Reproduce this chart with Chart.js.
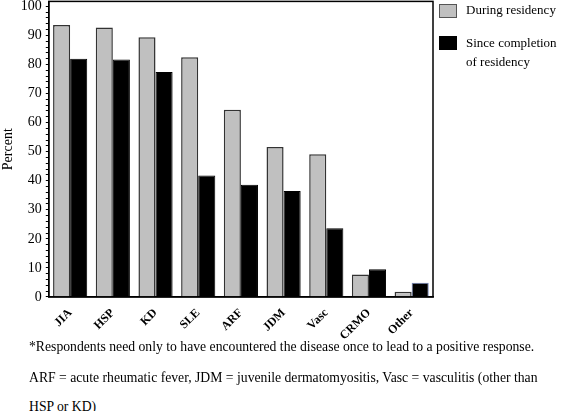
<!DOCTYPE html>
<html>
<head>
<meta charset="utf-8">
<script src="https://cdn.jsdelivr.net/npm/chart.js@4.4.1/dist/chart.umd.min.js"></script>
<style>
    body { margin: 0; background: #fff; font-family: "Liberation Serif", "Times New Roman", serif; }
    #wrap { position: relative; width: 561px; height: 411px; overflow: hidden; }
    #chart { position: absolute; left: 0; top: -11px; }
    .legend { position: absolute; left: 439px; font-size: 13px; color: #000; }
    .legend .box { position: absolute; left: 0; width: 16px; height: 12px; }
    .legend .txt { position: absolute; left: 27px; line-height: 19px; white-space: nowrap; }
    .note { position: absolute; left: 29px; font-size: 13.7px; color: #000; white-space: nowrap; }
</style>
</head>
<body>
<div id="wrap">
    <canvas id="chart" width="561" height="355"></canvas>
    <div class="legend" style="top:4px">
        <div class="box" style="background:#c0c0c0;border:1px solid #555;"></div>
        <div class="txt" style="top:-4px">During residency</div>
    </div>
    <div class="legend" style="top:36px">
        <div class="box" style="background:#000;border:1px solid #000;"></div>
        <div class="txt" style="top:-3px">Since completion<br>of residency</div>
    </div>
    <div class="note" style="top:339px">*Respondents need only to have encountered the disease once to lead to a positive response.</div>
    <div class="note" style="top:370px">ARF = acute rheumatic fever, JDM = juvenile dermatomyositis, Vasc = vasculitis (other than</div>
    <div class="note" style="top:399px">HSP or KD)</div>
</div>
<script>
// Data
const diseases = ['JIA', 'HSP', 'KD', 'SLE', 'ARF', 'JDM', 'Vasc', 'CRMO', 'Other'];
const duringResidency = [93.6, 92.7, 89.4, 82.5, 64.4, 51.6, 49.1, 7.7, 1.8];
const sinceCompletion = [82.0, 81.7, 77.4, 41.8, 38.6, 36.5, 23.6, 9.5, 4.9];
const yTicks = [0, 10, 20, 30, 40, 50, 60, 70, 80, 90, 100];

// box around the plot area
const frame = {
    id: 'frame',
    afterDraw(chart) {
        const a = chart.chartArea;
        const c = chart.ctx;
        c.save();
        c.strokeStyle = '#000';
        c.lineWidth = 1.5;
        c.strokeRect(a.left, a.top, a.right - a.left, a.bottom - a.top);
        c.restore();
    }
};

const ctx = document.getElementById('chart').getContext('2d');
new Chart(ctx, {
    type: 'bar',
    data: {
        labels: diseases,
        datasets: [{
            label: 'During residency',
            data: duringResidency,
            backgroundColor: '#c0c0c0',
            borderColor: '#333',
            borderWidth: 1.5,
            barPercentage: 1.0,
            categoryPercentage: 0.8
        }, {
            label: 'Since completion of residency',
            data: sinceCompletion,
            backgroundColor: '#000',
            borderColor: diseases.map((d, i) => i === diseases.length - 1 ? '#6b7fb8' : '#000'),
            borderWidth: 1,
            barPercentage: 1.0,
            categoryPercentage: 0.8
        }]
    },
    options: {
        responsive: false,
        animation: false,
        layout: { padding: { top: 0, right: 128, left: 0, bottom: 0 } },
        plugins: {
            legend: { display: false },
            tooltip: { enabled: false }
        },
        scales: {
            x: {
                grid: { display: false },
                border: { display: true, color: '#000', width: 1.5 },
                ticks: {
                    color: '#000',
                    minRotation: 45,
                    maxRotation: 45,
                    padding: 1,
                    font: { family: 'Liberation Serif', size: 12, weight: 'bold' }
                }
            },
            y: {
                min: 0,
                max: 101.7,
                afterBuildTicks(scale) {
                    const t = [];
                    for (let v = 0; v <= 100; v += 2) t.push({ value: v });
                    scale.ticks = t;
                },
                ticks: {
                    color: '#000',
                    padding: 4,
                    autoSkip: false,
                    font: { family: 'Liberation Serif', size: 14 },
                    callback: v => yTicks.includes(v) ? v : ''
                },
                grid: {
                    drawOnChartArea: false,
                    tickLength: 3,
                    color: '#000'
                },
                border: { display: true, color: '#000', width: 1.5 },
                title: {
                    display: true,
                    text: 'Percent',
                    color: '#000',
                    padding: 0,
                    font: { family: 'Liberation Serif', size: 14 }
                }
            }
        }
    },
    plugins: [frame]
});
</script>
</body>
</html>
